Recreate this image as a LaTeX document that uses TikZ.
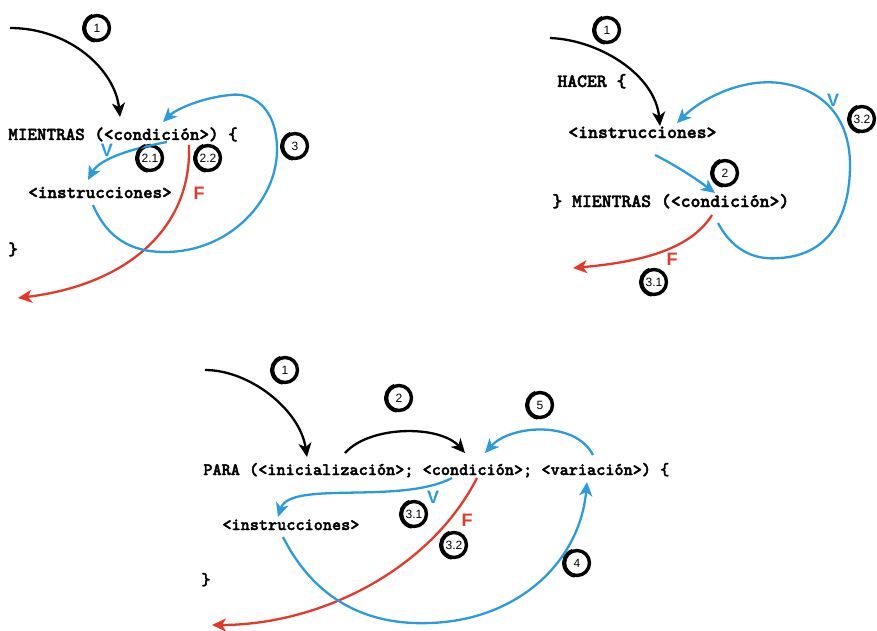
\documentclass[tikz,border=0pt]{standalone}
\usepackage{amsmath}
\usepackage{xcolor}
\usepackage{fontspec}
\setsansfont{Liberation Sans}
\newfontfamily\codigofuente{lmmonolt10-bold}[Extension=.otf,FakeBold=2.2]
\usetikzlibrary{arrows.meta}

\definecolor{azul}{RGB}{40,155,225}
\definecolor{rojo}{RGB}{230,55,40}

\begin{document}
\begin{tikzpicture}[x=0.5pt,y=-0.5pt,
	codigo/.style={anchor=base west,inner sep=0pt,font=\codigofuente\fontsize{#1}{#1}\selectfont},
	paso/.style={circle,draw,line width=1.7pt,minimum size=12.5pt,inner sep=0pt,font=\sffamily\fontsize{6}{6}\selectfont},
	flecha/.style={line width=1.15pt,-{Stealth[length=7pt,width=6.5pt,inset=2pt]}},
	vf/.style={inner sep=0pt,font=\sffamily\bfseries\fontsize{9}{9}\selectfont}]
	\useasboundingbox (0,0) rectangle (877,631);

	% mientras
	\node[codigo=9.1] (mientras) at (8,140) {MIENTRAS (<condición>) \{};
	\node[codigo=9.1] (instr1) at (28,198) {<instrucciones>};
	\node[codigo=9.1] (cierre1) at (8,255) {\}};
	\node[paso] (m1) at (97,28) {1};
	\node[paso] (m21) at (150,158) {2.1};
	\node[paso] (m22) at (208,158) {2.2};
	\node[paso] (m3) at (295,146) {3};
	\node[vf,text=azul] (mv) at (107,150) {V};
	\node[vf,text=rojo] (mf) at (199,193) {F};
	\coordinate (mini) at (10,28);
	\coordinate (mcond) at (120,117);
	\coordinate (msalv) at (167,142);
	\coordinate (minstr) at (88,180);
	\coordinate (msalf) at (189,145);
	\coordinate (mfin) at (18,298);
	\coordinate (mvuelta) at (93,205);
	\coordinate (mtope) at (163,122);
	\draw[flecha] (mini) .. controls (70,28) and (115,70) .. (mcond);
	\draw[flecha,azul] (msalv) .. controls (135,148) and (100,158) .. (minstr);
	\draw[flecha,rojo] (msalf) .. controls (192,230) and (125,285) .. (mfin);
	\draw[flecha,azul] (mvuelta) .. controls (110,245) and (140,252) .. (165,252)
		.. controls (230,252) and (277,200) .. (277,150)
		.. controls (277,105) and (250,92) .. (230,95)
		.. controls (200,98) and (175,110) .. (mtope);

	% hacer - mientras
	\node[codigo=9.4] (hacer) at (557,87) {HACER \{};
	\node[codigo=9.4] (instr2) at (568,138) {<instrucciones>};
	\node[codigo=9.4] (mientras2) at (552,207) {\} MIENTRAS (<condición>)};
	\node[paso] (h1) at (607,30) {1};
	\node[paso] (h2) at (725,173) {2};
	\node[paso] (h32) at (862,119) {3.2};
	\node[paso] (h31) at (654,282) {3.1};
	\node[vf,text=azul] (hv) at (833,100) {V};
	\node[vf,text=rojo] (hf) at (672,259) {F};
	\coordinate (hini) at (550,38);
	\coordinate (hinstr) at (660,126);
	\coordinate (hsal) at (655,155);
	\coordinate (hcond) at (715,193);
	\coordinate (hvuelta) at (718,223);
	\coordinate (htope) at (677,123);
	\coordinate (hsalf) at (712,215);
	\coordinate (hfin) at (573,268);
	\draw[flecha] (hini) .. controls (600,40) and (655,75) .. (hinstr);
	\draw[flecha,azul] (hsal) .. controls (675,165) and (695,178) .. (hcond);
	\draw[flecha,azul] (hvuelta) .. controls (735,255) and (760,260) .. (780,258)
		.. controls (830,255) and (850,215) .. (850,165)
		.. controls (850,125) and (830,90) .. (780,83)
		.. controls (740,78) and (700,100) .. (htope);
	\draw[flecha,rojo] (hsalf) .. controls (690,250) and (640,262) .. (hfin);

	% para
	\node[codigo=8.7] (para) at (203,475) {PARA (<inicialización>; <condición>; <variación>) \{};
	\node[codigo=8.7] (instr3) at (222,530) {<instrucciones>};
	\node[codigo=8.7] (cierre3) at (201,585) {\}};
	\node[paso] (p1) at (285,370) {1};
	\node[paso] (p2) at (399,398) {2};
	\node[paso] (p5) at (540,405) {5};
	\node[paso] (p31) at (414,514) {3.1};
	\node[paso] (p32) at (454,545) {3.2};
	\node[paso] (p4) at (577,563) {4};
	\node[vf,text=azul] (pv) at (433,497) {V};
	\node[vf,text=rojo] (pf) at (467,520) {F};
	\coordinate (pini) at (205,370);
	\coordinate (pinic) at (307,457);
	\coordinate (pdesde) at (345,453);
	\coordinate (pcond) at (465,453);
	\coordinate (pvar) at (593,455);
	\coordinate (pcond2) at (485,453);
	\coordinate (psalv) at (452,478);
	\coordinate (pinstr) at (278,517);
	\coordinate (psalf) at (477,478);
	\coordinate (pfin) at (212,625);
	\coordinate (pvuelta) at (283,537);
	\coordinate (pvar2) at (587,482);
	\draw[flecha] (pini) .. controls (250,370) and (300,410) .. (pinic);
	\draw[flecha] (pdesde) .. controls (370,425) and (440,425) .. (pcond);
	\draw[flecha,azul] (pvar) .. controls (575,420) and (510,425) .. (pcond2);
	\draw[flecha,azul] (psalv) .. controls (400,505) and (290,480) .. (pinstr);
	\draw[flecha,rojo] (psalf) .. controls (430,570) and (320,625) .. (pfin);
	\draw[flecha,azul] (pvuelta) .. controls (320,610) and (380,625) .. (430,623)
		.. controls (520,620) and (580,560) .. (pvar2);

	% trazo de pincel en los circulos
	\foreach \c in {m1,m21,m22,m3,h1,h2,h32,h31,p1,p2,p5,p31,p32,p4}
		\draw[line width=0.9pt] (\c.center) ++(110:7pt) arc[start angle=110,end angle=260,radius=7pt];
\end{tikzpicture}
\end{document}
